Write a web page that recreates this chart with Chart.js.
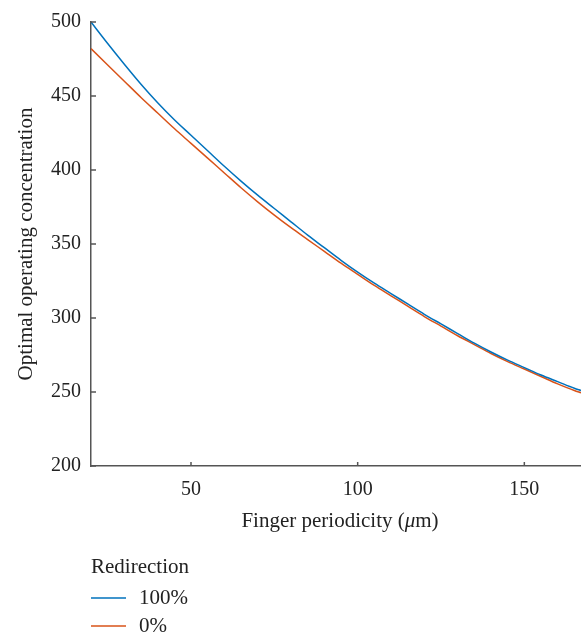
<!DOCTYPE html>
<html>
<head>
<meta charset="utf-8">
<script src="https://cdn.jsdelivr.net/npm/chart.js@4.4.1/dist/chart.umd.min.js"></script>
<style>
  html, body { margin: 0; padding: 0; background: #fff; }
  #wrap { width: 581px; height: 635px; position: relative; }
</style>
</head>
<body>
<div id="wrap"><canvas id="c"></canvas></div>
<script>
// Finger periodicity (um)
var periods = [20, 25, 30, 35, 40, 45, 50, 55, 60, 65, 70, 75, 80, 85, 90, 95, 100, 105, 110, 115, 120, 125, 130, 135, 140, 145, 150, 155, 160, 165, 167];
// Optimal operating concentration, redirection 100%
var conc100 = [500, 485.5, 471.5, 458, 445.5, 434, 423.5, 413, 402.5, 392.5, 383, 374, 365, 356, 347.5, 339, 331, 323.5, 316.5, 309.5, 302.5, 296, 289.5, 283, 277, 271.5, 266.5, 261.5, 257, 252.5, 251];
// Optimal operating concentration, redirection 0%
var conc0 = [482, 471, 460, 449, 438.5, 428, 418, 408, 398, 388, 378.5, 369.5, 361, 353, 345, 337, 329.5, 322, 315, 308, 301, 294.5, 288, 282, 276, 270.5, 265.5, 260.5, 255.5, 251, 249.5];
var seriesLabels = ["100%", "0%"];
var seriesColors = ["#0072BD", "#D95319"];
var xTicks = [50, 100, 150];

var FONT = "'Liberation Serif', 'DejaVu Serif', serif";
var TXT = "#222";

function pts(ys) {
    return periods.map(function(x, i) { return { x: x, y: ys[i] }; });
}

// inward tick marks, x title with italic mu, vertical legend
var extras = {
    id: "extras",
    afterDraw: function(chart) {
        var ctx = chart.ctx, a = chart.chartArea;
        var xs = chart.scales.x, ys = chart.scales.y;
        ctx.save();
        ctx.strokeStyle = "#555";
        ctx.lineWidth = 1.5;
        ys.ticks.forEach(function(t) {
            var py = ys.getPixelForValue(t.value);
            ctx.beginPath(); ctx.moveTo(a.left, py); ctx.lineTo(a.left + 5, py); ctx.stroke();
        });
        xs.ticks.forEach(function(t) {
            var px = xs.getPixelForValue(t.value);
            ctx.beginPath(); ctx.moveTo(px, a.bottom); ctx.lineTo(px, a.bottom - 4); ctx.stroke();
        });

        // x axis title
        ctx.fillStyle = TXT;
        ctx.textBaseline = "alphabetic";
        ctx.textAlign = "left";
        var parts = [["Finger periodicity (", ""], ["\u03bc", "italic "], ["m)", ""]];
        var widths = parts.map(function(p) { ctx.font = p[1] + "21px " + FONT; return ctx.measureText(p[0]).width; });
        var total = widths.reduce(function(s, w) { return s + w; }, 0);
        var tx = (a.left + a.right) / 2 + 4 - total / 2;
        parts.forEach(function(p, i) {
            ctx.font = p[1] + "21px " + FONT;
            ctx.fillText(p[0], tx, 527);
            tx += widths[i];
        });

        // legend
        var lx = a.left, ly = 567;
        ctx.font = "21px " + FONT;
        ctx.textBaseline = "middle";
        ctx.fillText("Redirection", lx, ly);
        chart.data.datasets.forEach(function(ds, i) {
            var y = ly + 31 + i * 28;
            ctx.strokeStyle = ds.borderColor;
            ctx.lineWidth = 1.5;
            ctx.beginPath(); ctx.moveTo(lx, y); ctx.lineTo(lx + 35, y); ctx.stroke();
            ctx.fillText(ds.label, lx + 48, y);
        });
        ctx.restore();
    }
};

new Chart(document.getElementById("c"), {
    type: "line",
    data: {
        datasets: [
            { label: seriesLabels[0], data: pts(conc100), borderColor: seriesColors[0], borderWidth: 1.5, pointRadius: 0, cubicInterpolationMode: "monotone" },
            { label: seriesLabels[1], data: pts(conc0), borderColor: seriesColors[1], borderWidth: 1.5, pointRadius: 0, cubicInterpolationMode: "monotone" }
        ]
    },
    options: {
        animation: false,
        responsive: true,
        maintainAspectRatio: false,
        layout: { padding: { top: 22, right: 0, bottom: 89, left: 0 } },
        scales: {
            x: {
                type: "linear", min: 20, max: 167,
                afterBuildTicks: function(s) { s.ticks = xTicks.map(function(v) { return { value: v }; }); },
                afterFit: function(s) { s.height = 80; },
                grid: { display: false, drawTicks: false },
                border: { display: true, color: "#555", width: 1.5 },
                ticks: { color: TXT, font: { family: FONT, size: 20 }, padding: 12, maxRotation: 0 },
                title: { display: false }
            },
            y: {
                min: 200, max: 500,
                afterFit: function(s) { s.width = 91; },
                grid: { display: false, drawTicks: false },
                border: { display: true, color: "#555", width: 1.5 },
                ticks: { stepSize: 50, color: TXT, font: { family: FONT, size: 20 }, padding: 10 },
                title: { display: true, text: "Optimal operating concentration", color: TXT, font: { family: FONT, size: 21 }, padding: { top: 14, bottom: 0 } }
            }
        },
        plugins: { legend: { display: false }, tooltip: { enabled: false } }
    },
    plugins: [extras]
});
</script>
</body>
</html>
